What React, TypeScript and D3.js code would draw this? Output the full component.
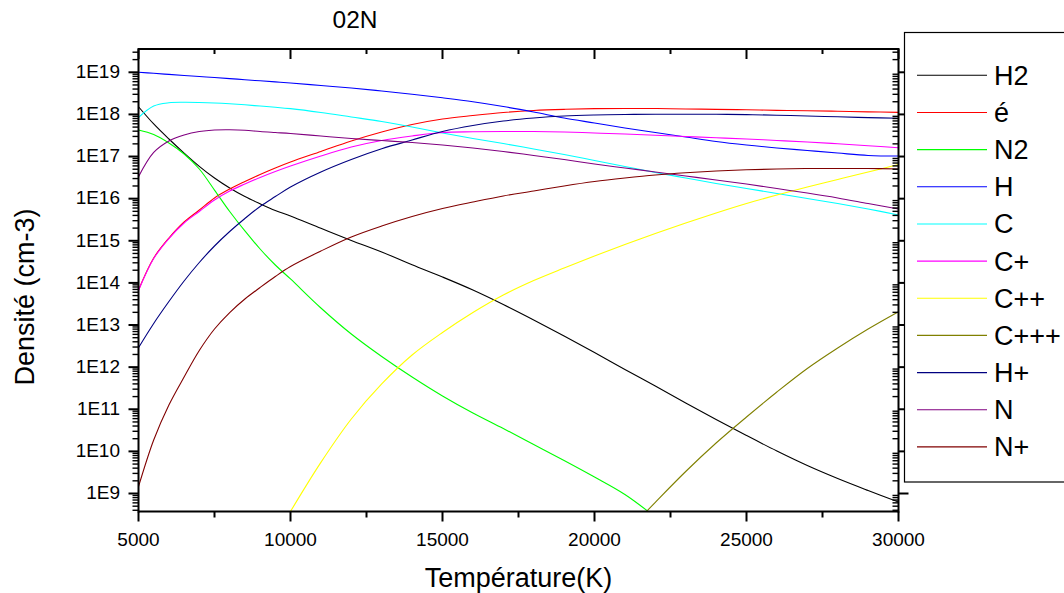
import React, { useEffect } from 'react';
import * as d3 from 'd3';

// Temperature grid (K)
const temperatures = [
  5000, 5500, 6000, 6500, 7000, 7500, 8000, 8500, 9000, 9500, 10000,
  11000, 12000, 13000, 14000, 15000, 16000, 17000, 18000, 19000, 20000,
  21000, 22000, 23000, 24000, 25000, 26000, 27000, 28000, 29000, 30000,
];

// Densities (cm-3) of each species on the temperature grid
const densH2 = [
  1.52e18, 5.93e17, 2.61e17, 1.21e17, 5.86e16, 3.09e16, 1.79e16, 1.12e16, 7.55e15, 5.24e15, 3.87e15,
  1.98e15, 1.02e15, 5.42e14, 2.70e14, 1.38e14, 6.78e13, 3.07e13, 1.32e13, 5.48e12, 2.23e12,
  8.79e11, 3.56e11, 1.41e11, 5.71e10, 2.38e10, 1.02e10, 4.62e9, 2.27e9, 1.18e9, 6.28e8,
];
const densElectron = [
  6.79e13, 3.90e14, 1.16e15, 2.79e15, 5.38e15, 1.04e16, 1.69e16, 2.55e16, 3.75e16, 5.35e16, 7.42e16,
  1.32e17, 2.34e17, 3.83e17, 5.77e17, 7.78e17, 9.42e17, 1.11e18, 1.24e18, 1.32e18, 1.37e18,
  1.38e18, 1.38e18, 1.35e18, 1.32e18, 1.29e18, 1.25e18, 1.22e18, 1.19e18, 1.15e18, 1.12e18,
];
const densN2 = [
  4.27e17, 3.34e17, 2.10e17, 1.15e17, 5.06e16, 1.60e16, 4.96e15, 1.71e15, 6.38e14, 2.66e14, 1.24e14,
  2.54e13, 6.12e12, 1.79e12, 5.83e11, 2.07e11, 8.15e10, 3.49e10, 1.46e10, 6.07e9, 2.46e9,
  9.47e8, 2.77e8, null, null, null, null, null, null, null, null,
];
const densH = [
  1.0e19, 9.47e18, 8.91e18, 8.39e18, 7.95e18, 7.53e18, 7.09e18, 6.67e18, 6.28e18, 5.92e18, 5.57e18,
  4.86e18, 4.24e18, 3.60e18, 3.02e18, 2.48e18, 2.00e18, 1.54e18, 1.14e18, 8.22e17, 6.25e17,
  4.75e17, 3.72e17, 2.91e17, 2.28e17, 1.88e17, 1.60e17, 1.39e17, 1.21e17, 1.06e17, 1.03e17,
];
const densC = [
  8.45e17, 1.58e18, 1.89e18, 1.94e18, 1.92e18, 1.87e18, 1.79e18, 1.69e18, 1.58e18, 1.48e18, 1.37e18,
  1.11e18, 8.69e17, 6.79e17, 5.03e17, 3.62e17, 2.68e17, 2.04e17, 1.51e17, 1.12e17, 8.05e16,
  5.80e16, 4.18e16, 3.09e16, 2.29e16, 1.74e16, 1.33e16, 1.01e16, 7.68e15, 5.69e15, 4.09e15,
];
const densCPlus = [
  6.61e13, 3.79e14, 1.13e15, 2.64e15, 4.96e15, 9.29e15, 1.52e16, 2.23e16, 3.18e16, 4.41e16, 5.96e16,
  1.03e17, 1.68e17, 2.40e17, 3.07e17, 3.72e17, 3.87e17, 3.93e17, 3.93e17, 3.83e17, 3.62e17,
  3.43e17, 3.19e17, 2.99e17, 2.79e17, 2.61e17, 2.40e17, 2.21e17, 2.01e17, 1.81e17, 1.62e17,
];
const densC2Plus = [
  null, null, null, null, null, null, null, null, null, null, 3.75e8,
  5.47e9, 5.87e10, 3.98e11, 1.94e12, 6.64e12, 1.98e13, 5.16e13, 1.14e14, 2.26e14, 4.36e14,
  8.17e14, 1.49e15, 2.64e15, 4.57e15, 7.68e15, 1.22e16, 1.89e16, 2.85e16, 4.30e16, 6.47e16,
];
const densC3Plus = [
  null, null, null, null, null, null, null, null, null, null, null,
  null, null, null, null, null, null, null, null, null, null,
  1.09e8, 6.18e8, 3.33e9, 1.58e10, 6.55e10, 2.57e11, 9.29e11, 2.85e12, 8.04e12, 2.07e13,
];
const densHPlus = [
  2.90e12, 1.09e13, 3.61e13, 1.11e14, 3.05e14, 7.52e14, 1.66e15, 3.38e15, 6.52e15, 1.12e16, 1.89e16,
  4.30e16, 8.51e16, 1.53e17, 2.47e17, 3.93e17, 5.46e17, 6.98e17, 8.22e17, 9.17e17, 9.68e17,
  9.95e17, 1.01e18, 1.01e18, 1.01e18, 9.90e17, 9.58e17, 9.17e17, 8.79e17, 8.40e17, 8.09e17,
];
const densN = [
  3.32e16, 1.25e17, 2.34e17, 3.25e17, 3.93e17, 4.27e17, 4.32e17, 4.22e17, 3.93e17, 3.72e17, 3.53e17,
  3.07e17, 2.68e17, 2.40e17, 2.15e17, 1.88e17, 1.60e17, 1.32e17, 1.06e17, 8.51e16, 6.65e16,
  5.35e16, 4.30e16, 3.45e16, 2.77e16, 2.23e16, 1.74e16, 1.36e16, 1.04e16, 7.68e15, 5.69e15,
];
const densNPlus = [
  1.45e9, 1.86e10, 1.26e11, 5.83e11, 2.48e12, 8.04e12, 1.98e13, 4.15e13, 7.78e13, 1.42e14, 2.45e14,
  5.71e14, 1.23e15, 2.24e15, 3.77e15, 5.84e15, 8.33e15, 1.16e16, 1.52e16, 2.00e16, 2.55e16,
  3.09e16, 3.65e16, 4.13e16, 4.54e16, 4.84e16, 5.06e16, 5.20e16, 5.22e16, 5.20e16, 5.06e16,
];

const seriesNames = ['H2', 'é', 'N2', 'H', 'C', 'C+', 'C++', 'C+++', 'H+', 'N', 'N+'];
const seriesColors = [
  '#000000', '#ff0000', '#00ff00', '#0000ff', '#00ffff', '#ff00ff',
  '#ffff00', '#808000', '#000080', '#800080', '#800000',
];
const seriesValues = [
  densH2, densElectron, densN2, densH, densC, densCPlus,
  densC2Plus, densC3Plus, densHPlus, densN, densNPlus,
];

const xMajorTicks = [5000, 10000, 15000, 20000, 25000, 30000];
const xMinorTicks = [7500, 12500, 17500, 22500, 27500];
const yMajorTicks = [1e9, 1e10, 1e11, 1e12, 1e13, 1e14, 1e15, 1e16, 1e17, 1e18, 1e19];
const yTickLabels = ['1E9', '1E10', '1E11', '1E12', '1E13', '1E14', '1E15', '1E16', '1E17', '1E18', '1E19'];

const titleText = '02N';
const xTitle = 'Température(K)';
const yTitle = 'Densité (cm-3)';

const FONT = '"Liberation Sans", Arial, Helvetica, sans-serif';
const WIDTH = 1064;
const HEIGHT = 593;
const LEFT = 138.5;
const RIGHT = 898.5;
const TOP = 49;
const BOTTOM = 511.5;

export default function App() {
  useEffect(() => {
    document.body.style.margin = '0';
  }, []);

  const x = d3.scaleLinear().domain([5000, 30000]).range([LEFT, RIGHT]);
  const y = d3.scaleLog().domain([3.739e8, 3.573e19]).range([BOTTOM, TOP]);

  const [yMin, yMax] = y.domain();
  const yMinorTicks: number[] = [];
  for (let e = 8; e <= 19; e++) {
    for (let k = 2; k <= 9; k++) {
      const v = k * Math.pow(10, e);
      if (v >= yMin && v <= yMax) yMinorTicks.push(v);
    }
  }

  const line = d3
    .line<number | null>()
    .defined((d) => d != null)
    .x((_, i) => x(temperatures[i]))
    .y((d) => y(d as number))
    .curve(d3.curveCatmullRom.alpha(0.5));

  const legendTop = 75.3;
  const legendStep = 37.16;

  return (
    <svg
      width={WIDTH}
      height={HEIGHT}
      viewBox={`0 0 ${WIDTH} ${HEIGHT}`}
      style={{ display: 'block', position: 'absolute', left: 0, top: 0, background: '#fff' }}
      fontFamily={FONT}
    >
      <rect x={0} y={0} width={WIDTH} height={HEIGHT} fill="#ffffff" />
      <defs>
        <clipPath id="plot-clip">
          <rect x={LEFT} y={TOP} width={RIGHT - LEFT} height={BOTTOM - TOP} />
        </clipPath>
      </defs>

      {/* title */}
      <text x={355} y={27.7} fontSize={24.5} textAnchor="middle" fill="#000">
        {titleText}
      </text>

      {/* curves */}
      <g clipPath="url(#plot-clip)" fill="none" strokeWidth={1.1}>
        {seriesValues.map((vals, i) => (
          <path key={seriesNames[i]} d={line(vals) || ''} stroke={seriesColors[i]} />
        ))}
      </g>

      {/* frame */}
      <g stroke="#000" strokeWidth={2} fill="none">
        <line x1={LEFT} x2={RIGHT} y1={TOP} y2={TOP} />
        <line x1={LEFT} x2={RIGHT} y1={BOTTOM} y2={BOTTOM} />
        <line x1={LEFT} x2={LEFT} y1={TOP - 1} y2={BOTTOM + 1} />
        <line x1={RIGHT} x2={RIGHT} y1={TOP - 1} y2={BOTTOM + 1} />
      </g>

      {/* bottom and top ticks */}
      <g stroke="#000">
        {xMajorTicks.map((t) => (
          <g key={`xm${t}`}>
            <line x1={x(t)} x2={x(t)} y1={BOTTOM} y2={BOTTOM + 10} strokeWidth={2} />
            <line x1={x(t)} x2={x(t)} y1={TOP} y2={TOP + 10} strokeWidth={2} />
          </g>
        ))}
        {xMinorTicks.map((t) => (
          <g key={`xn${t}`}>
            <line x1={x(t)} x2={x(t)} y1={BOTTOM} y2={BOTTOM + 6} strokeWidth={2} />
            <line x1={x(t)} x2={x(t)} y1={TOP} y2={TOP + 5} strokeWidth={2} />
          </g>
        ))}
      </g>

      {/* left and right ticks */}
      <g stroke="#000">
        {yMajorTicks.map((t) => (
          <g key={`ym${t}`}>
            <line x1={LEFT - 10} x2={LEFT} y1={y(t)} y2={y(t)} strokeWidth={2} />
            <line x1={RIGHT} x2={RIGHT + 10} y1={y(t)} y2={y(t)} strokeWidth={2} />
          </g>
        ))}
        {yMinorTicks.map((t) => (
          <g key={`yn${t}`}>
            <line x1={LEFT - 6} x2={LEFT} y1={y(t)} y2={y(t)} strokeWidth={1.4} />
            <line x1={RIGHT - 6} x2={RIGHT} y1={y(t)} y2={y(t)} strokeWidth={1.4} />
          </g>
        ))}
      </g>

      {/* tick labels */}
      <g fontSize={19} fill="#000">
        {yMajorTicks.map((t, i) => (
          <text key={`yl${t}`} x={120} y={y(t) + 5.8} textAnchor="end">
            {yTickLabels[i]}
          </text>
        ))}
        {xMajorTicks.map((t) => (
          <text key={`xl${t}`} x={x(t)} y={545.5} textAnchor="middle">
            {d3.format('d')(t)}
          </text>
        ))}
      </g>

      {/* axis titles */}
      <text x={(LEFT + RIGHT) / 2} y={586.5} fontSize={27} textAnchor="middle" fill="#000">
        {xTitle}
      </text>
      <text
        transform="translate(33.5, 297) rotate(-90)"
        fontSize={27}
        textAnchor="middle"
        fill="#000"
      >
        {yTitle}
      </text>

      {/* legend */}
      <g>
        <rect x={904.5} y={32.5} width={200} height={449.5} fill="#ffffff" stroke="#000" strokeWidth={1.2} />
        {seriesNames.map((name, i) => {
          const ly = legendTop + i * legendStep;
          return (
            <g key={`lg${name}`}>
              <line x1={917} x2={987} y1={ly} y2={ly} stroke={seriesColors[i]} strokeWidth={1.1} />
              <text x={994} y={ly + 9.5} fontSize={27} fill="#000">
                {name}
              </text>
            </g>
          );
        })}
      </g>
    </svg>
  );
}
